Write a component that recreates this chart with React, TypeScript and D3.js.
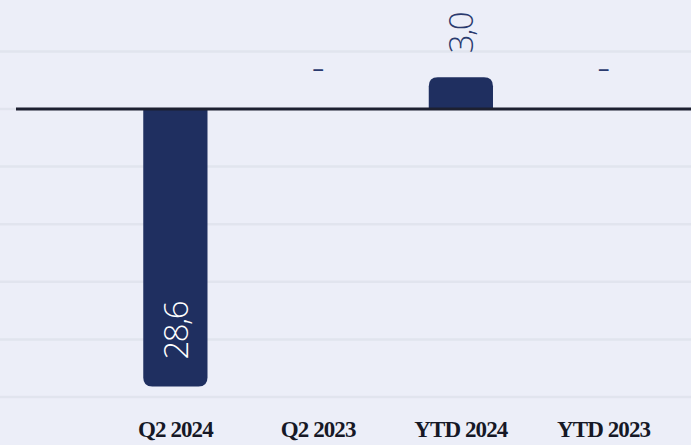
import React, { useEffect } from "react";
import * as d3 from "d3";

const categories = ["Q2 2024", "Q2 2023", "YTD 2024", "YTD 2023"];
const values: (number | null)[] = [-28.6, null, 3.0, null];
const valueLabels = ["28,6", "-", "3,0", "-"];
const tickValues = [6, 0, -6, -12, -18, -24, -30];

const W = 691;
const H = 445;

export default function App() {
  useEffect(() => {
    document.body.style.margin = "0";
  }, []);

  const x = d3.scaleBand<string>().domain(categories).range([104, 675]).paddingInner(0.55).paddingOuter(0.275);
  const y = d3.scaleLinear().domain([-30, 6]).range([397, 51.4]);
  const y0 = y(0);
  const bw = x.bandwidth();
  const r = 9;
  const ext = 3;

  const barPath = (v: number, x0: number) => {
    const w = bw;
    if (v < 0) {
      const top = y0 + 1;
      const bot = y(v) + ext;
      return `M${x0},${top}V${bot - r}Q${x0},${bot} ${x0 + r},${bot}H${x0 + w - r}Q${x0 + w},${bot} ${x0 + w},${bot - r}V${top}Z`;
    } else {
      const bot = y0;
      const top = y(v) - ext;
      return `M${x0},${bot}V${top + r}Q${x0},${top} ${x0 + r},${top}H${x0 + w - r}Q${x0 + w},${top} ${x0 + w},${top + r}V${bot}Z`;
    }
  };

  return (
    <svg width={W} height={H} style={{ display: "block", background: "#eceef8" }}>
      <rect x={0} y={0} width={W} height={H} fill="#eceef8" />
      {tickValues.map((t) => (
        <line key={t} x1={0} x2={W} y1={y(t)} y2={y(t)} stroke="#e1e4ee" strokeWidth={2.5} />
      ))}
      {categories.map((c, i) => {
        const v = values[i];
        const cx = (x(c) as number) + bw / 2;
        if (v === null) {
          return (
            <text
              key={c}
              x={cx}
              y={81}
              textAnchor="middle"
              fontFamily="'Open Sans', sans-serif"
              fontWeight={300}
              fontSize={40}
              fill="#2a3a6e"
            >
              {valueLabels[i]}
            </text>
          );
        }
        const x0 = x(c) as number;
        const neg = v < 0;
        const start = neg ? y(v) + ext - 27 : y(v) - ext - 24;
        return (
          <g key={c}>
            <path d={barPath(v, x0)} fill="#1f2f60" />
            <text
              transform={`translate(${cx + 12.5},${start}) rotate(-90)`}
              fontFamily="'Open Sans', sans-serif"
              fontWeight={300}
              fontSize={33}
              letterSpacing={-1.5}
              fill={neg ? "#ffffff" : "#2a3a6e"}
            >
              {valueLabels[i]}
            </text>
          </g>
        );
      })}
      <line x1={16} x2={W} y1={y0} y2={y0} stroke="#1d2030" strokeWidth={3} />
      {categories.map((c) => (
        <text
          key={c}
          x={(x(c) as number) + bw / 2}
          y={437}
          textAnchor="middle"
          fontFamily="'Liberation Serif', serif"
          fontWeight={700}
          fontSize={23}
          letterSpacing={-0.9}
          fill="#161826"
        >
          {c}
        </text>
      ))}
    </svg>
  );
}
